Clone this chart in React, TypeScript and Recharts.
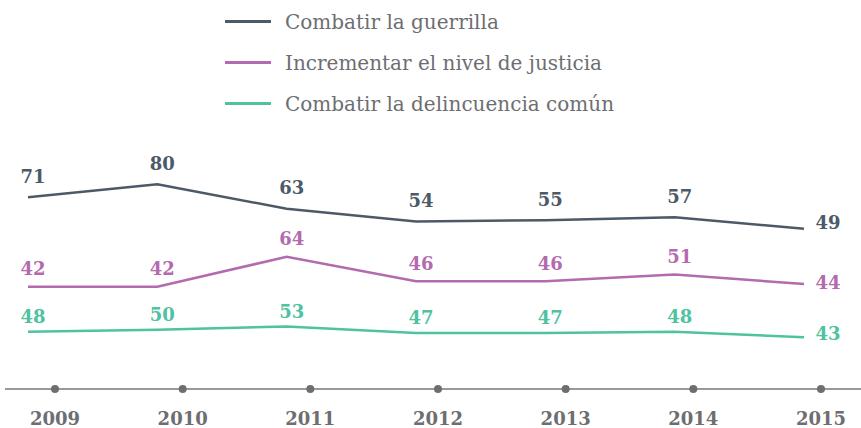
import { Legend, LabelList, Line, LineChart, XAxis, YAxis } from 'recharts';

document.body.style.margin = '0';

const years = ['2009', '2010', '2011', '2012', '2013', '2014', '2015'];
const guerrilla = [71, 80, 63, 54, 55, 57, 49];
const justicia = [42, 42, 64, 46, 46, 51, 44];
const delincuencia = [48, 50, 53, 47, 47, 48, 43];

const seriesNames = [
  'Combatir la guerrilla',
  'Incrementar el nivel de justicia',
  'Combatir la delincuencia común',
];

const data = years.map((year, i) => ({
  year,
  guerrilla: guerrilla[i],
  justicia: justicia[i],
  delincuencia: delincuencia[i],
}));

const FONT = '"DejaVu Serif", serif';
const GRAY = '#6d6e71';

const series = [
  { key: 'guerrilla', name: seriesNames[0], color: '#4c5a68', domain: [-63, 118], up: 21, lastUp: 6 },
  { key: 'justicia', name: seriesNames[1], color: '#b46aae', domain: [-33, 157], up: 18, lastUp: 2 },
  { key: 'delincuencia', name: seriesNames[2], color: '#4fc2a0', domain: [-5, 235], up: 15, lastUp: 4 },
];

function makeLabel(color: string, up: number, lastUp: number) {
  return (props: any) => {
    const vb = props.viewBox || {};
    const x = vb.x ?? props.x;
    const y = vb.y ?? props.y;
    const last = props.index === years.length - 1;
    return (
      <text
        x={last ? x + 24 : x + 5}
        y={last ? y - lastUp : y - up}
        fill={color}
        fontFamily={FONT}
        fontWeight="bold"
        fontSize={18}
        textAnchor="middle"
        dominantBaseline="central"
      >
        {props.value}
      </text>
    );
  };
}

function YearTick(props: any) {
  const { x, y, payload } = props;
  return (
    <g>
      <circle cx={x} cy={y} r={4} fill={GRAY} />
      <text
        x={x}
        y={y + 29}
        fill={GRAY}
        fontFamily={FONT}
        fontWeight="bold"
        fontSize={18}
        textAnchor="middle"
        dominantBaseline="central"
      >
        {payload.value}
      </text>
    </g>
  );
}

function renderLegend() {
  return (
    <div style={{ paddingTop: 1 }}>
      {series.map((s) => (
        <div key={s.key} style={{ display: 'flex', alignItems: 'center', height: 41 }}>
          <div style={{ marginLeft: 225, width: 46, height: 3, background: s.color }} />
          <span style={{ marginLeft: 14, fontFamily: FONT, fontSize: 20, color: GRAY }}>{s.name}</span>
        </div>
      ))}
    </div>
  );
}

export default function App() {
  return (
    <LineChart width={861} height={428} data={data} margin={{ top: 130, right: 0, bottom: 0, left: 5 }}>
      <XAxis xAxisId="lines" dataKey="year" hide padding={{ left: 23, right: 57 }} />
      <XAxis
        xAxisId="axis"
        dataKey="year"
        height={39}
        padding={{ left: 50, right: 40 }}
        axisLine={{ stroke: '#98999c', strokeWidth: 2 }}
        tickLine={false}
        tickSize={0}
        tickMargin={0}
        tick={<YearTick />}
        interval={0}
      />
      {series.map((s) => (
        <YAxis key={s.key} yAxisId={s.key} hide type="number" domain={s.domain} allowDataOverflow />
      ))}
      <Legend
        layout="vertical"
        verticalAlign="middle"
        align="center"
        wrapperStyle={{ top: 0, left: 0, width: 861 }}
        content={renderLegend}
      />
      {series.map((s) => (
        <Line
          key={s.key}
          xAxisId="lines"
          yAxisId={s.key}
          dataKey={s.key}
          name={s.name}
          stroke={s.color}
          strokeWidth={2.5}
          dot={false}
          activeDot={false}
          isAnimationActive={false}
        >
          <LabelList dataKey={s.key} content={makeLabel(s.color, s.up, s.lastUp)} />
        </Line>
      ))}
    </LineChart>
  );
}
